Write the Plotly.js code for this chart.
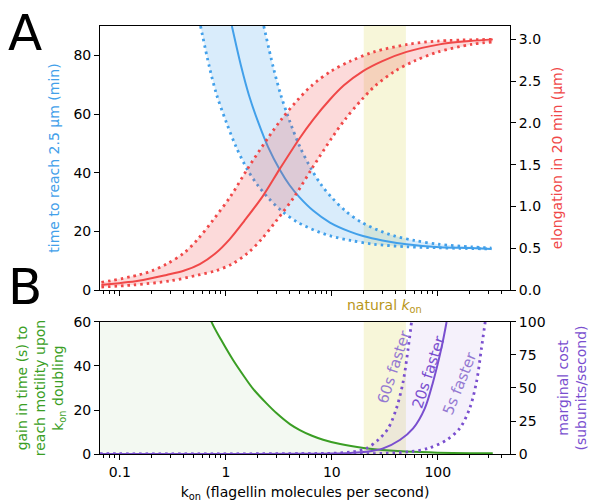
<!DOCTYPE html>
<html>
<head>
<meta charset="utf-8">
<script src="https://cdn.plot.ly/plotly-3.0.1.min.js"></script>
<style>html,body{margin:0;padding:0;background:#fff;}#chart{width:589px;height:502px;}</style>
</head>
<body>
<div id="chart"></div>
<script>
// ---- Panel A: time to reach 2.5 µm (min), left axis ----
const kTimeMid  = [1.14, 1.40, 1.65, 2.02, 2.5, 3.23, 4.0, 4.99, 6.7, 9.6, 14.8, 19.7, 30, 50.7, 104, 200, 321];
const timeMid   = [90, 76, 66.5, 57.2, 48.8, 41, 35.7, 31.5, 27, 23, 19.9, 18.4, 16.9, 15.6, 14.6, 14.3, 14.0];
const kTimeLow  = [0.577, 0.70, 0.82, 1.01, 1.25, 1.6, 2.0, 2.5, 3.35, 4.8, 7.4, 9.85, 15, 25, 52, 100, 160, 321];
const timeLow   = [90, 76, 66.5, 57.2, 48.8, 41, 35.7, 31.5, 27, 23, 19.9, 18.4, 16.9, 15.6, 14.7, 14.4, 14.2, 14.0];
const kTimeHigh = [2.28, 2.8, 3.3, 4.04, 5.0, 6.46, 8.0, 10, 13.4, 19.2, 29.6, 39.4, 60, 101, 208, 321];
const timeHigh  = [90, 76, 66.5, 57.2, 48.8, 41, 35.7, 31.5, 27, 23, 19.9, 18.4, 16.9, 15.6, 14.7, 14.3];

// ---- Panel A: elongation in 20 min (µm), right axis ----
const kElongMid  = [0.067, 0.15, 0.276, 0.4, 0.569, 0.8, 1.09, 1.5, 2.25, 3.23, 4.99, 6.67, 9.6, 13, 19.7, 30, 50.7, 104, 200, 330];
const elongMid   = [0.06, 0.11, 0.18, 0.23, 0.31, 0.44, 0.61, 0.83, 1.13, 1.45, 1.82, 2.04, 2.28, 2.45, 2.62, 2.74, 2.85, 2.94, 2.98, 3.0];
const kElongHigh = [0.067, 0.15, 0.2, 0.276, 0.4, 0.545, 0.75, 1.12, 1.6, 2.5, 3.33, 4.8, 6.5, 9.85, 15, 25, 52, 100, 330];
const elongHigh  = [0.09, 0.18, 0.23, 0.31, 0.44, 0.61, 0.83, 1.13, 1.45, 1.82, 2.04, 2.28, 2.45, 2.62, 2.74, 2.85, 2.94, 2.98, 3.0];
const kElongLow  = [0.067, 0.134, 0.3, 0.552, 0.8, 1.14, 1.6, 2.18, 3.0, 4.5, 6.46, 10, 13.3, 19.2, 26, 39.4, 60, 101, 208, 330];
const elongLow   = [0.035, 0.06, 0.11, 0.18, 0.23, 0.31, 0.44, 0.61, 0.83, 1.13, 1.45, 1.82, 2.04, 2.28, 2.45, 2.62, 2.74, 2.85, 2.94, 2.97];

// ---- Panel B: gain in time (s) upon kon doubling, left axis ----
const kGain = [0.065, 0.1, 0.2, 0.4, 0.6, 0.733, 0.9, 1.17, 1.5, 1.81, 2.42, 3.0, 4.02, 4.99, 6.5, 8.28, 12, 20, 30, 50, 100, 200, 330];
const gain  = [1000, 600, 250, 110, 73, 60, 52, 42.7, 35, 29.6, 23, 18.6, 13.6, 10.9, 8.3, 6.5, 4.5, 2.7, 1.8, 1.1, 0.6, 0.4, 0.3];

// ---- Panel B: marginal cost (subunits/second), right axis ----
const kCost60 = [0.065, 5, 10, 15.9, 21.2, 27.3, 34, 40.7, 47.1, 52.5, 56.5];
const cost60  = [0, 0.2, 0.6, 1.7, 4.3, 10.6, 19.4, 34.6, 54.8, 80, 100];
const kCost20 = [0.065, 1, 5, 10, 15, 21.2, 30.5, 43.8, 58.5, 75.4, 90.3, 108, 121];
const cost20  = [0, 0.01, 0.1, 0.3, 0.8, 1.7, 4.3, 10.6, 19.4, 34.6, 54.8, 80, 100];
const kCost5  = [0.065, 10, 30, 54.4, 81, 121, 161, 200, 232, 258, 280];
const cost5   = [0, 0.1, 0.5, 1.7, 4.3, 10.6, 19.4, 34.6, 54.8, 80, 100];

// ---- natural kon range & ticks ----
const naturalKon = [20, 50];
const xTickVals = [0.1, 1, 10, 100];
const xTickText = ['0.1', '1', '10', '100'];
const xMinorVals = [0.07,0.08,0.09,0.2,0.3,0.4,0.5,0.6,0.7,0.8,0.9,2,3,4,5,6,7,8,9,20,30,40,50,60,70,80,90,200,300,400];
const timeTicks = [0, 20, 40, 60, 80];
const elongTicks = [0, 0.5, 1, 1.5, 2, 2.5, 3];
const gainTicks = [0, 20, 40, 60];
const costTicks = [0, 25, 50, 75, 100];

const BLUE = '#42a0ea', RED = '#f04848', GREEN = '#3a9e24', PURPLE = '#7a4fcf';
const DOT = '2.5px,4px';
const FONT = 'DejaVu Sans, Liberation Sans, sans-serif';

function rev(a){ return a.slice().reverse(); }
const SPL = {shape:'spline', smoothing:0.9};

const traces = [
  // red band + lines (drawn first)
  {x: kElongHigh.concat(rev(kElongLow)), y: elongHigh.concat(rev(elongLow)), xaxis:'x', yaxis:'y2',
   mode:'lines', fill:'toself', fillcolor:'rgba(240,72,72,0.2)', line:{width:0}, hoverinfo:'skip'},
  {x: kElongHigh, y: elongHigh, xaxis:'x', yaxis:'y2', mode:'lines', line:Object.assign({color:RED, width:2.8, dash:DOT}, SPL)},
  {x: kElongLow, y: elongLow, xaxis:'x', yaxis:'y2', mode:'lines', line:Object.assign({color:RED, width:2.8, dash:DOT}, SPL)},
  {x: kElongMid, y: elongMid, xaxis:'x', yaxis:'y2', mode:'lines', line:Object.assign({color:RED, width:2}, SPL)},
  // blue band + lines
  {x: kTimeLow.concat(rev(kTimeHigh)), y: timeLow.concat(rev(timeHigh)), xaxis:'x', yaxis:'y',
   mode:'lines', fill:'toself', fillcolor:'rgba(66,160,234,0.2)', line:{width:0}, hoverinfo:'skip'},
  {x: kTimeLow, y: timeLow, xaxis:'x', yaxis:'y', mode:'lines', line:Object.assign({color:BLUE, width:2.8, dash:DOT}, SPL)},
  {x: kTimeHigh, y: timeHigh, xaxis:'x', yaxis:'y', mode:'lines', line:Object.assign({color:BLUE, width:2.8, dash:DOT}, SPL)},
  {x: kTimeMid, y: timeMid, xaxis:'x', yaxis:'y', mode:'lines', line:Object.assign({color:BLUE, width:2}, SPL)},
  // purple band + lines
  {x: kCost60.concat(rev(kCost5)), y: cost60.concat(rev(cost5)), xaxis:'x2', yaxis:'y4',
   mode:'lines', fill:'toself', fillcolor:'rgba(122,79,207,0.08)', line:{width:0}, hoverinfo:'skip'},
  {x: kCost60, y: cost60, xaxis:'x2', yaxis:'y4', mode:'lines', line:Object.assign({color:PURPLE, width:2.8, dash:DOT}, SPL)},
  {x: kCost5, y: cost5, xaxis:'x2', yaxis:'y4', mode:'lines', line:Object.assign({color:PURPLE, width:2.8, dash:DOT}, SPL)},
  {x: kCost20, y: cost20, xaxis:'x2', yaxis:'y4', mode:'lines', line:Object.assign({color:PURPLE, width:2}, SPL)},
  // green
  {x: kGain, y: gain, xaxis:'x2', yaxis:'y3', mode:'lines', fill:'tozeroy', fillcolor:'rgba(58,158,36,0.06)',
   line:Object.assign({color:GREEN, width:2}, SPL)}
];

const xr = [Math.log10(0.065), Math.log10(480)];
const tickFont = {family: FONT, size: 14, color: '#000'};
const axBase = {showline:true, linecolor:'#000', linewidth:1, ticks:'outside', ticklen:5, tickwidth:1,
  tickcolor:'#000', showgrid:false, zeroline:false, tickfont:tickFont, automargin:false};
const minorX = {tickmode:'array', tickvals:xMinorVals, ticks:'outside', ticklen:3, tickwidth:1, tickcolor:'#000', showgrid:false};

const layout = {
  width: 589, height: 502,
  margin: {l:0, r:0, t:0, b:0},
  paper_bgcolor:'#fff', plot_bgcolor:'rgba(0,0,0,0)',
  showlegend:false,
  font:{family: FONT, size:14, color:'#000'},
  xaxis: Object.assign({}, axBase, {type:'log', range:xr, domain:[0.1698,0.8659], anchor:'y', mirror:true,
    tickmode:'array', tickvals:xTickVals, ticktext:xTickText, showticklabels:false, minor:minorX}),
  yaxis: Object.assign({}, axBase, {range:[0,90], domain:[0.4223,0.9482], anchor:'x', tickvals:timeTicks,
    title:{text:'time to reach 2.5 µm (min)', font:{family:FONT, size:14, color:BLUE}, standoff:10}}),
  yaxis2: Object.assign({}, axBase, {range:[0,3.16], overlaying:'y', side:'right', anchor:'x', tickvals:elongTicks,
    tickformat:'.1f', title:{text:'elongation in 20 min (µm)', font:{family:FONT, size:14, color:RED}, standoff:12}}),
  xaxis2: Object.assign({}, axBase, {type:'log', range:xr, domain:[0.1698,0.8659], anchor:'y3', mirror:true,
    tickmode:'array', tickvals:xTickVals, ticktext:xTickText, minor:minorX,
    title:{text:'k<sub>on</sub> (flagellin molecules per second)', font:{family:FONT, size:14, color:'#000'}, standoff:8}}),
  yaxis3: Object.assign({}, axBase, {range:[0,60], domain:[0.0956,0.3586], anchor:'x2', tickvals:gainTicks,
    title:{text:'gain in time (s) to<br>reach motility upon<br>k<sub>on</sub> doubling', font:{family:FONT, size:14, color:GREEN}, standoff:6}}),
  yaxis4: Object.assign({}, axBase, {range:[0,100], overlaying:'y3', side:'right', anchor:'x2', tickvals:costTicks,
    title:{text:'marginal cost<br>(subunits/second)', font:{family:FONT, size:14, color:PURPLE}, standoff:17}}),
  shapes: [
    {type:'rect', layer:'below', xref:'x', yref:'y domain', x0:naturalKon[0], x1:naturalKon[1], y0:0, y1:1,
     fillcolor:'rgba(230,225,130,0.3)', line:{width:0}},
    {type:'rect', layer:'below', xref:'x2', yref:'y3 domain', x0:naturalKon[0], x1:naturalKon[1], y0:0, y1:1,
     fillcolor:'rgba(230,225,130,0.3)', line:{width:0}}
  ],
  annotations: [
    {text:'A', xref:'paper', yref:'paper', x:25/589, y:1-33/502, xanchor:'center', yanchor:'middle', showarrow:false,
     font:{family:FONT, size:50, color:'#000'}},
    {text:'B', xref:'paper', yref:'paper', x:25/589, y:1-287/502, xanchor:'center', yanchor:'middle', showarrow:false,
     font:{family:FONT, size:50, color:'#000'}},
    {text:'natural <i>k</i><sub>on</sub>', xref:'paper', yref:'paper', x:384.5/589, y:1-306/502, xanchor:'center', yanchor:'middle',
     showarrow:false, font:{family:FONT, size:14, color:'#b8961a'}},
    {text:'60s faster', xref:'x2', yref:'y4', x:Math.log10(38.5), y:66, showarrow:false, textangle:-72,
     font:{family:FONT, size:15, color:'#9479d2'}},
    {text:'20s faster', xref:'x2', yref:'y4', x:Math.log10(82.2), y:62, showarrow:false, textangle:-72,
     font:{family:FONT, size:15, color:PURPLE}},
    {text:'5s faster', xref:'x2', yref:'y4', x:Math.log10(161), y:54, showarrow:false, textangle:-68,
     font:{family:FONT, size:15, color:'#9479d2'}}
  ]
};

Plotly.newPlot('chart', traces, layout, {displayModeBar:false, staticPlot:true});
</script>
</body>
</html>
